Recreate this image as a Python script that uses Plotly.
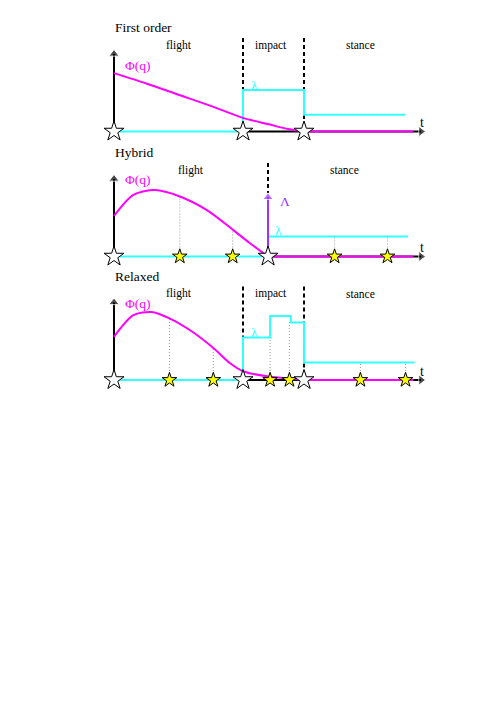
import plotly.graph_objects as go

# time in units of the flight phase, values in axis units (0 = baseline, 1 = y-arrow tip)
T_AXIS = 2.38          # end of the t axis
T_LINE = 2.32          # end of the coloured baseline segments

# ---- First order ----
fo_events = [0.0, 1.0, 1.473]
fo_phi_t = [0.0, 0.25, 0.5, 0.75, 1.0, 1.2, 1.35, 1.473]
fo_phi_v = [0.73, 0.60, 0.46, 0.32, 0.17, 0.09, 0.03, 0.0]
fo_lam_t = [1.0, 1.0, 1.473, 1.473, 2.256]
fo_lam_v = [0.0, 0.52, 0.52, 0.21, 0.21]
fo_dash = [1.0, 1.473]
fo_colloc_t = []
fo_colloc_v = []
fo_phase_t = [0.5, 1.22, 1.91]
fo_phase = ["flight", "impact", "stance"]

# ---- Hybrid ----
hy_events = [0.0, 1.194]
hy_phi_t = [0.0, 0.15, 0.318, 0.51, 0.72, 0.925, 1.054, 1.194]
hy_phi_v = [0.506, 0.77, 0.83, 0.75, 0.58, 0.33, 0.165, 0.0]
hy_lam_t = [1.194, 2.28]
hy_lam_v = [0.25, 0.25]
hy_dash = [1.194]
hy_colloc_t = [0.51, 0.92, 1.71, 2.12]
hy_colloc_v = [0.75, 0.34, 0.25, 0.25]
hy_impulse = 0.78
hy_phase_t = [0.60, 1.79]
hy_phase = ["flight", "stance"]

# ---- Relaxed ----
rx_events = [0.0, 1.0, 1.473]
rx_phi_t = [0.0, 0.15, 0.29, 0.43, 0.61, 0.77, 0.90, 1.0, 1.21, 1.36, 1.473]
rx_phi_v = [0.54, 0.81, 0.85, 0.77, 0.60, 0.40, 0.21, 0.11, 0.04, 0.02, 0.0]
rx_lam_t = [1.0, 1.0, 1.21, 1.21, 1.37, 1.37, 1.473, 1.473, 2.33]
rx_lam_v = [0.0, 0.53, 0.53, 0.80, 0.80, 0.72, 0.72, 0.22, 0.22]
rx_dash = [1.0, 1.473]
rx_colloc_t = [0.43, 0.77, 1.21, 1.36, 1.91, 2.26]
rx_colloc_v = [0.77, 0.40, 0.80, 0.72, 0.22, 0.22]
rx_phase_t = [0.5, 1.22, 1.91]
rx_phase = ["flight", "impact", "stance"]

MAGENTA = "#FF00FF"
CYAN = "#33FFFF"
PURPLE = "#9B30FF"
SERIF = "Liberation Serif, Times New Roman, serif"

fig = go.Figure()
annotations = []


def add_panel(k, title, events, phi_t, phi_v, lam_t, lam_v, dash_t,
              colloc_t, colloc_v, phase_t, phase, lam_label, impulse=None):
    xa, ya = ("x", "y") if k == 1 else (f"x{k}", f"y{k}")
    ax = dict(xaxis=xa, yaxis=ya, showlegend=False, hoverinfo="skip")
    stance_start = events[-1]
    flight_end = events[1]

    # axes (black part of the t axis only where no coloured line lies on it)
    fig.add_trace(go.Scatter(x=[flight_end, T_AXIS], y=[0, 0], mode="lines+markers",
                             line=dict(color="black", width=2),
                             marker=dict(symbol="triangle-right", size=[0, 9], color="black"),
                             cliponaxis=False, **ax))
    fig.add_trace(go.Scatter(x=[0, 0], y=[0, 0.97], mode="lines+markers",
                             line=dict(color="black", width=2),
                             marker=dict(symbol="triangle-up", size=[0, 9], color="black"),
                             cliponaxis=False, **ax))
    # dashed phase boundaries
    for td in dash_t:
        low = 0.79 if impulse is not None else 0
        fig.add_trace(go.Scatter(x=[td, td], y=[1.17, low], mode="lines",
                                 line=dict(color="black", width=2, dash="4px,3px"), **ax))
    # dotted collocation lines
    for tc, vc in zip(colloc_t, colloc_v):
        fig.add_trace(go.Scatter(x=[tc, tc], y=[0, vc], mode="lines",
                                 line=dict(color="#999999", width=1, dash="1px,2px"), **ax))
    # lambda: zero in flight, then given profile
    fig.add_trace(go.Scatter(x=[0, flight_end], y=[0, 0], mode="lines",
                             line=dict(color=CYAN, width=2), **ax))
    fig.add_trace(go.Scatter(x=lam_t, y=lam_v, mode="lines",
                             line=dict(color=CYAN, width=2), **ax))
    # phi: curve then zero during stance
    fig.add_trace(go.Scatter(x=phi_t, y=phi_v, mode="lines",
                             line=dict(color=MAGENTA, width=2, shape="spline", smoothing=0.8),
                             **ax))
    fig.add_trace(go.Scatter(x=[stance_start, T_LINE], y=[0, 0], mode="lines",
                             line=dict(color=MAGENTA, width=2), **ax))
    # impulse arrow
    if impulse is not None:
        fig.add_trace(go.Scatter(x=[stance_start, stance_start], y=[0, impulse - 0.04],
                                 mode="lines+markers", line=dict(color=PURPLE, width=2),
                                 marker=dict(symbol="triangle-up", size=[0, 9], color=PURPLE),
                                 cliponaxis=False, **ax))
    # stars
    fig.add_trace(go.Scatter(x=colloc_t, y=[0] * len(colloc_t), mode="markers",
                             marker=dict(symbol="star", size=11, color="#FFFF00",
                                         line=dict(color="black", width=1)),
                             cliponaxis=False, **ax))
    fig.add_trace(go.Scatter(x=events, y=[0] * len(events), mode="markers",
                             marker=dict(symbol="star", size=15, color="white",
                                         line=dict(color="black", width=1)),
                             cliponaxis=False, **ax))

    # texts
    def txt(x, y, s, color="black", size=11.5, xanchor="center"):
        annotations.append(dict(x=x, y=y, xref=xa, yref=ya, text=s, showarrow=False,
                                xanchor=xanchor, yanchor="middle",
                                font=dict(family=SERIF, size=size, color=color)))

    txt(-0.01, 1.3, title, size=13.5, xanchor="left")
    for tp, lab in zip(phase_t, phase):
        txt(tp, 1.08, lab)
    txt(0.07, phi_v[0] + 0.09 if k == 1 else 0.96, "Φ(q)", MAGENTA, 13.5, "left")
    txt(lam_label[0], lam_label[1], "λ", CYAN, 13.5, "left")
    txt(T_AXIS - 0.02, 0.11, "t", size=14, xanchor="left")
    if impulse is not None:
        txt(stance_start + 0.08, 0.69, "Λ", PURPLE, 13.5, "left")


add_panel(1, "First order", fo_events, fo_phi_t, fo_phi_v, fo_lam_t, fo_lam_v, fo_dash,
          fo_colloc_t, fo_colloc_v, fo_phase_t, fo_phase, (1.045, 0.58))
add_panel(2, "Hybrid", hy_events, hy_phi_t, hy_phi_v, hy_lam_t, hy_lam_v, hy_dash,
          hy_colloc_t, hy_colloc_v, hy_phase_t, hy_phase, (1.235, 0.32), impulse=hy_impulse)
add_panel(3, "Relaxed", rx_events, rx_phi_t, rx_phi_v, rx_lam_t, rx_lam_v, rx_dash,
          rx_colloc_t, rx_colloc_v, rx_phase_t, rx_phase, (1.045, 0.60))

# the page body adds an 8 px margin, so plot pixels are page pixels minus 8
W, H = 496, 701
X0, PX_PER_T = 106, 129
x_range = [-X0 / PX_PER_T, (W - X0) / PX_PER_T]
PX_PER_V = 80


def ydomain(base_px):
    return [1 - (base_px + 8) / H, 1 - (base_px - 118) / H]


hidden = dict(visible=False, fixedrange=True)
layout = dict(width=W, height=H, margin=dict(l=0, r=0, t=0, b=0),
              paper_bgcolor="white", plot_bgcolor="rgba(0,0,0,0)",
              showlegend=False, annotations=annotations)
for k, base in zip([1, 2, 3], [123.5, 248.5, 372]):
    sx = "" if k == 1 else str(k)
    layout[f"xaxis{sx}"] = dict(range=x_range, domain=[0, 1], anchor=f"y{sx}", **hidden)
    layout[f"yaxis{sx}"] = dict(range=[-8 / PX_PER_V, 118 / PX_PER_V], domain=ydomain(base),
                               anchor=f"x{sx}", **hidden)

fig.update_layout(**layout)
fig.write_html("out.html")
